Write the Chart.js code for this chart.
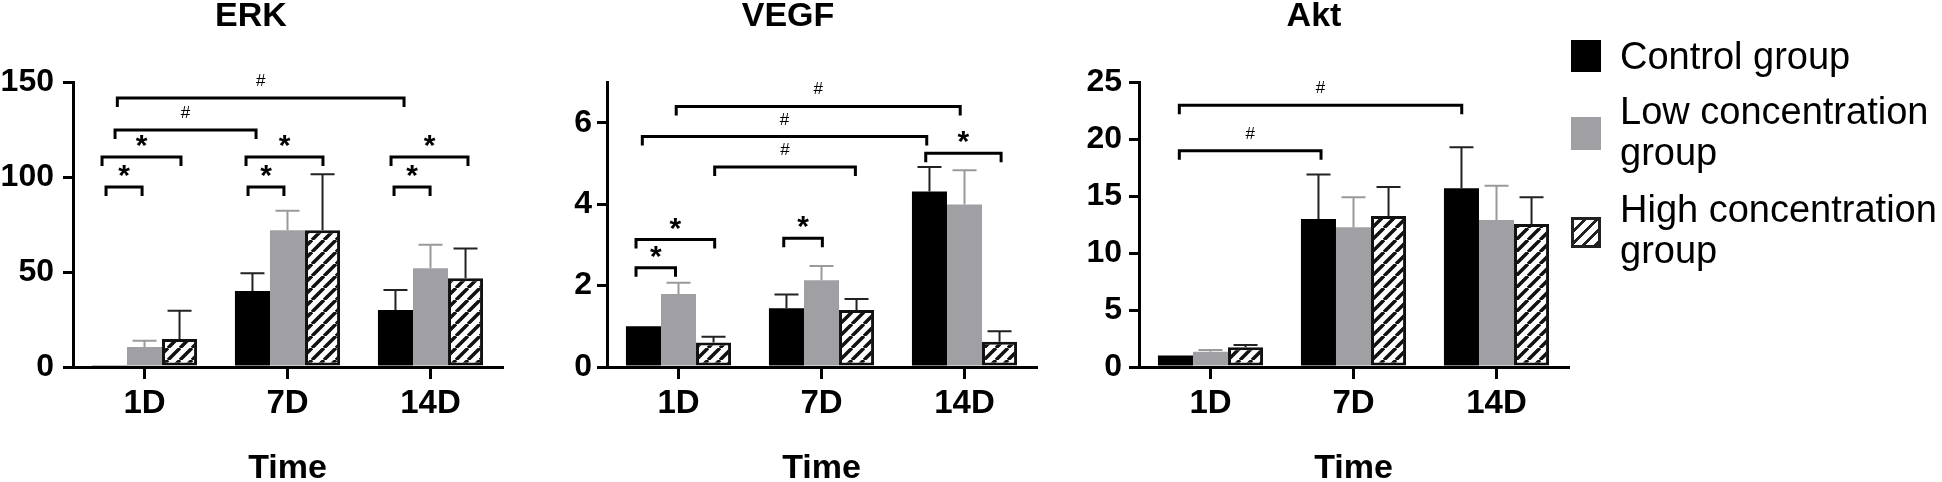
<!DOCTYPE html>
<html><head><meta charset="utf-8">
<script src="https://cdn.jsdelivr.net/npm/chart.js@4.4.0/dist/chart.umd.min.js"></script>
<style>
html,body{margin:0;padding:0;background:#fff;width:1942px;height:482px;overflow:hidden;}
#wrap{position:relative;width:1942px;height:482px;}
canvas{position:absolute;top:0;}
.lg{position:absolute;font-family:"Liberation Sans",Arial,sans-serif;font-size:38px;line-height:41px;color:#000;width:330px;}
.sq{position:absolute;box-sizing:border-box;}
</style></head><body>
<div id="wrap">
<canvas id="c1" width="575" height="482" style="left:0px"></canvas>
<canvas id="c2" width="563" height="482" style="left:540px"></canvas>
<canvas id="c3" width="587" height="482" style="left:1060px"></canvas>
</div>
<script>
// ---------- data ----------
const categories = ['1D', '7D', '14D'];
const seriesNames = ['Control group', 'Low concentration group', 'High concentration group'];

const erkControl = [0.6, 40, 30];
const erkLow = [10.5, 72, 52];
const erkHigh = [14.7, 72, 46.7];
const erkControlSD = [0, 9.3, 10.5];
const erkLowSD = [3.3, 10.2, 12.3];
const erkHighSD = [14.9, 29.5, 15.7];
const erkTicks = [0, 50, 100, 150];
// [from (category units), to (category units), level (value units), label]
const erkSig = [
  [-0.19, 1.815, 141.6, '#'],
  [-0.206, 0.78, 124.7, '#'],
  [-0.297, 0.255, 110.5, '*'],
  [-0.269, -0.017, 94.7, '*'],
  [0.71, 1.248, 110.5, '*'],
  [0.724, 0.975, 94.7, '*'],
  [1.724, 2.262, 110.5, '*'],
  [1.745, 1.997, 94.7, '*']
];

const vegfControl = [1.0, 1.44, 4.31];
const vegfLow = [1.79, 2.13, 3.99];
const vegfHigh = [0.6, 1.40, 0.62];
const vegfControlSD = [0, 0.34, 0.6];
const vegfLowSD = [0.28, 0.35, 0.84];
const vegfHighSD = [0.14, 0.27, 0.26];
const vegfTicks = [0, 2, 4, 6];
const vegfSig = [
  [-0.016, 1.97, 6.40, '#'],
  [-0.253, 1.736, 5.66, '#'],
  [0.253, 1.237, 4.91, '#'],
  [1.729, 2.256, 5.25, '*'],
  [-0.297, 0.253, 3.13, '*'],
  [-0.297, -0.021, 2.44, '*'],
  [0.736, 1.006, 3.16, '*']
];

const aktControl = [1.0, 12.98, 15.67];
const aktLow = [1.34, 12.25, 12.9];
const aktHigh = [1.73, 13.25, 12.54];
const aktControlSD = [0, 3.9, 3.6];
const aktLowSD = [0.16, 2.65, 3.0];
const aktHighSD = [0.2, 2.55, 2.35];
const aktTicks = [0, 5, 10, 15, 20, 25];
const aktSig = [
  [-0.218, 1.757, 22.96, '#'],
  [-0.218, 0.773, 18.97, '#']
];

// ---------- styling ----------
const FONT = '"Liberation Sans", Arial, Helvetica, sans-serif';
Chart.defaults.font.family = FONT;
Chart.defaults.color = '#000';

function hatch(color) {
  const s = 12, c = document.createElement('canvas');
  c.width = s; c.height = s;
  const g = c.getContext('2d');
  g.fillStyle = '#fff'; g.fillRect(0, 0, s, s);
  g.strokeStyle = color; g.lineWidth = 3.5; g.beginPath();
  for (let k = -1; k <= 1; k++) { g.moveTo(k * s, s); g.lineTo(k * s + s, 0); }
  g.stroke();
  return g.createPattern(c, 'repeat');
}

const annot = {
  id: 'annot',
  afterDatasetsDraw(chart, args, opts) {
    const ctx = chart.ctx, xs = chart.scales.x, ys = chart.scales.y;
    opts.sd.forEach((arr, di) => {
      const meta = chart.getDatasetMeta(di);
      meta.data.forEach((bar, i) => {
        const sd = arr[i]; if (!sd) return;
        const v = chart.data.datasets[di].data[i];
        const y0 = ys.getPixelForValue(v), y1 = ys.getPixelForValue(v + sd);
        ctx.save();
        ctx.strokeStyle = opts.errColors[di]; ctx.lineWidth = 2;
        ctx.beginPath();
        ctx.moveTo(bar.x, y0); ctx.lineTo(bar.x, y1);
        ctx.moveTo(bar.x - 12, y1); ctx.lineTo(bar.x + 12, y1);
        ctx.stroke(); ctx.restore();
      });
    });
    const p0 = xs.getPixelForValue(0), w = xs.getPixelForValue(1) - p0;
    opts.sig.forEach(([f1, f2, v, label]) => {
      const x1 = p0 + f1 * w, x2 = p0 + f2 * w, yy = ys.getPixelForValue(v);
      ctx.save();
      ctx.strokeStyle = '#000'; ctx.lineWidth = 3;
      ctx.beginPath();
      ctx.moveTo(x1, yy + 9); ctx.lineTo(x1, yy); ctx.lineTo(x2, yy); ctx.lineTo(x2, yy + 9);
      ctx.stroke();
      ctx.fillStyle = '#000'; ctx.textAlign = 'center'; ctx.textBaseline = 'alphabetic';
      if (label === '*') { ctx.font = 'bold 30px ' + FONT; ctx.fillText(label, (x1 + x2) / 2, yy - 2); }
      else { ctx.font = '17px ' + FONT; ctx.fillText(label, (x1 + x2) / 2, yy - 12); }
      ctx.restore();
    });
  }
};

function makeChart(id, title, ctrl, low, high, sds, sig, tickVals, yMax, yAxisW, padRight, labelPad) {
  const ctx = document.getElementById(id).getContext('2d');
  return new Chart(ctx, {
    type: 'bar',
    data: {
      labels: categories,
      datasets: [
        { label: seriesNames[0], data: ctrl, backgroundColor: '#000', borderWidth: 0 },
        { label: seriesNames[1], data: low, backgroundColor: '#a0a0a4', borderWidth: 0 },
        { label: seriesNames[2], data: high, backgroundColor: hatch('#111'), borderColor: '#111', borderWidth: 3, borderSkipped: false }
      ]
    },
    options: {
      responsive: false,
      animation: false,
      devicePixelRatio: 1,
      categoryPercentage: 0.735,
      barPercentage: 1,
      layout: { padding: { left: 0, right: padRight, top: 0, bottom: 0 } },
      plugins: {
        legend: { display: false },
        tooltip: { enabled: false },
        title: { display: true, text: title, color: '#000',
          font: { size: 34, weight: 'bold', lineHeight: 1 }, padding: { top: 0, bottom: 48 } },
        annot: { sd: sds, sig: sig, errColors: ['#222', '#9a9a9a', '#222'] }
      },
      scales: {
        x: {
          offset: true,
          grid: { display: true, drawOnChartArea: false, offset: false, tickLength: 12, lineWidth: 3, color: '#000' },
          border: { display: true, width: 3, color: '#000' },
          ticks: { font: { size: 33, weight: 'bold' }, color: '#000', padding: 5, maxRotation: 0 },
          title: { display: true, text: 'Time', color: '#000',
            font: { size: 34, weight: 'bold', lineHeight: 0.8 }, padding: { top: 0, bottom: 0 } },
          afterFit(s) { s.height = 115; }
        },
        y: {
          min: 0, max: yMax, bounds: 'data',
          grid: { display: true, drawOnChartArea: false, tickLength: 10, lineWidth: 3, color: '#000' },
          border: { display: true, width: 3, color: '#000' },
          ticks: { font: { size: 32, weight: 'bold' }, color: '#000', padding: labelPad },
          afterBuildTicks(s) { s.ticks = tickVals.map(v => ({ value: v })); },
          afterFit(s) { s.width = yAxisW; }
        }
      }
    },
    plugins: [annot]
  });
}

makeChart('c1', 'ERK', erkControl, erkLow, erkHigh, [erkControlSD, erkLowSD, erkHighSD], erkSig, erkTicks, 150, 73, 73, 9);
makeChart('c2', 'VEGF', vegfControl, vegfLow, vegfHigh, [vegfControlSD, vegfLowSD, vegfHighSD], vegfSig, vegfTicks, 7, 67, 67, 5);
makeChart('c3', 'Akt', aktControl, aktLow, aktHigh, [aktControlSD, aktLowSD, aktHighSD], aktSig, aktTicks, 25, 79, 79, 7);

// ---------- legend ----------
const wrap = document.getElementById('wrap');
const legendSwatch = [
  { top: 40, h: 32, style: 'background:#000' },
  { top: 117, h: 33, style: 'background:#a0a0a4' },
  { top: 217, h: 31, style: 'border:3px solid #222;background:repeating-linear-gradient(-45deg,#222 0 3px,#fff 3px 8.5px)' }
];
const legendTextTop = [36, 91, 189];
seriesNames.forEach((name, i) => {
  const sq = document.createElement('div');
  sq.className = 'sq';
  sq.style.cssText = `left:1571px;top:${legendSwatch[i].top}px;width:30px;height:${legendSwatch[i].h}px;` + legendSwatch[i].style;
  wrap.appendChild(sq);
  const t = document.createElement('div');
  t.className = 'lg';
  t.style.left = '1620px';
  t.style.top = legendTextTop[i] + 'px';
  t.textContent = name;
  wrap.appendChild(t);
});
</script>
</body></html>
